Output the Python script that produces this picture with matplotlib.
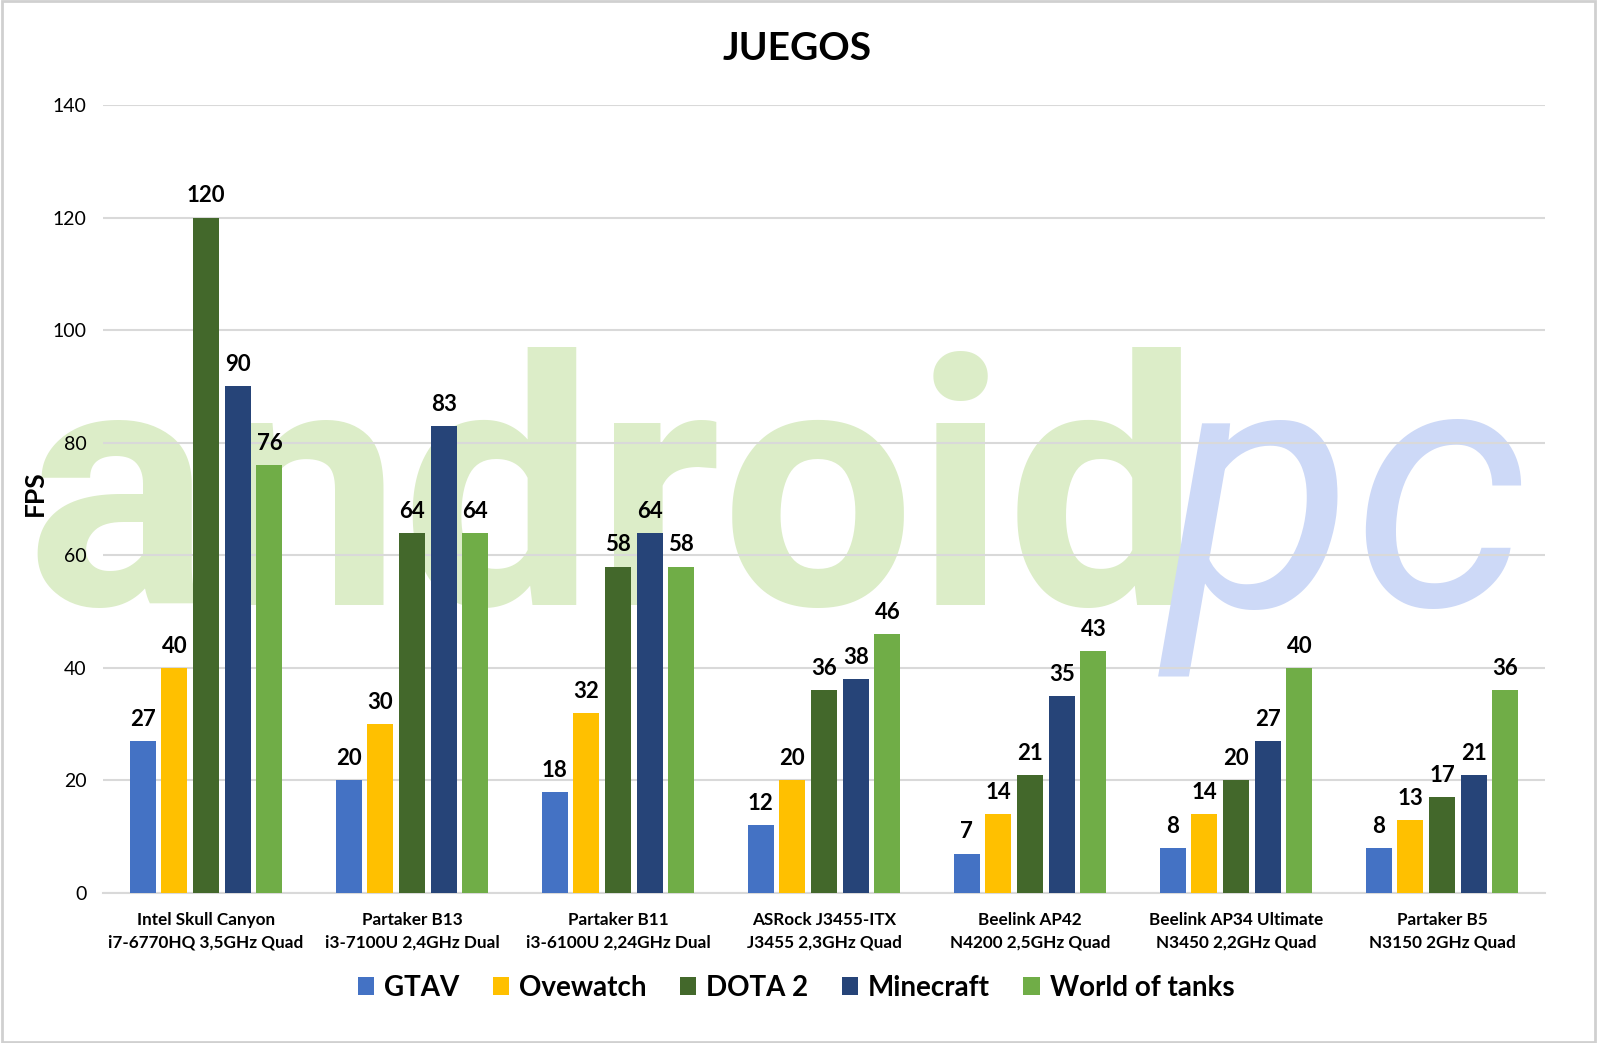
import numpy as np
import matplotlib
matplotlib.use("Agg")
from matplotlib import pyplot as plt
from matplotlib.patches import Rectangle

plt.rcParams["font.family"] = ["Lato", "DejaVu Sans"]

# data
categories = [
    "Intel Skull Canyon\ni7-6770HQ 3,5GHz Quad",
    "Partaker B13\ni3-7100U 2,4GHz Dual",
    "Partaker B11\ni3-6100U 2,24GHz Dual",
    "ASRock J3455-ITX\nJ3455 2,3GHz Quad",
    "Beelink AP42\nN4200 2,5GHz Quad",
    "Beelink AP34 Ultimate\nN3450 2,2GHz Quad",
    "Partaker B5\nN3150 2GHz Quad",
]
series_names = ["GTAV", "Ovewatch", "DOTA 2", "Minecraft", "World of tanks"]
gtav = [27, 20, 18, 12, 7, 8, 8]
overwatch = [40, 30, 32, 20, 14, 14, 13]
dota2 = [120, 64, 58, 36, 21, 20, 17]
minecraft = [90, 83, 64, 38, 35, 27, 21]
wot = [76, 64, 58, 46, 43, 40, 36]
y_ticks = [0, 20, 40, 60, 80, 100, 120, 140]

colors = ["#4472C4", "#FFC000", "#43682B", "#264478", "#70AD47"]
grid_col = "#D9D9D9"

W, H, DPI = 1597, 1043, 100
fig = plt.figure(figsize=(W / DPI, H / DPI), dpi=DPI)
fig.patch.set_facecolor("white")

# light frame round the picture
fig.add_artist(Rectangle((0.001, 0.001), 0.998, 0.998, transform=fig.transFigure,
                         fill=False, edgecolor="#D0D0D0", linewidth=2))

# watermark behind the plot
wm1 = fig.text(25 / W, 1 - 605 / H, "android", color="#DCEDC8", fontsize=250,
               fontweight="bold", family=["Roboto", "DejaVu Sans"],
               ha="left", va="baseline", zorder=0)
wm2 = fig.text(1165 / W, 1 - 605 / H, "pc", color="#CDD9F7", fontsize=250,
               fontstyle="italic", family=["Roboto", "DejaVu Sans"],
               ha="left", va="baseline", zorder=0)
fig.canvas.draw()
r = fig.canvas.get_renderer()
for t, target in ((wm1, 1175), (wm2, 365)):
    bb = t.get_window_extent(r)
    t.set_fontsize(t.get_fontsize() * target / bb.width)

ax = fig.add_axes([103 / W, 1 - 893 / H, 1442 / W, 788 / H])
ax.set_facecolor("none")
ax.set_zorder(1)

x = np.arange(len(categories))
step = 0.154
width = 0.126
all_series = [gtav, overwatch, dota2, minecraft, wot]
for i, (name, vals, c) in enumerate(zip(series_names, all_series, colors)):
    bars = ax.bar(x + (i - 2) * step, vals, width, color=c, label=name, zorder=3)
    for b, v in zip(bars, vals):
        ax.annotate(f"{v}", (b.get_x() + b.get_width() / 2, v), xytext=(0, 8),
                    textcoords="offset points", ha="center", va="bottom",
                    fontsize=16, fontweight="bold", color="black")

ax.set_xlim(-0.5, len(categories) - 0.5)
ax.set_ylim(0, 140)
ax.set_yticks(y_ticks)
ax.tick_params(axis="y", length=0, pad=12, labelsize=14)
ax.set_xticks(x)
ax.set_xticklabels(categories, fontsize=12.3, fontweight="bold", linespacing=1.45)
ax.tick_params(axis="x", length=0, pad=14)
ax.grid(axis="y", color=grid_col, linewidth=1.5, zorder=0)
ax.set_axisbelow(True)
for s in ("top", "right", "left"):
    ax.spines[s].set_visible(False)
ax.spines["bottom"].set_color(grid_col)
ax.spines["bottom"].set_linewidth(1.5)

fig.text(35 / W, 1 - 493 / H, "FPS", rotation=90, fontsize=19, fontweight="bold",
         ha="center", va="center")
fig.text(797 / W, 1 - 49 / H, "JUEGOS", fontsize=28, fontweight="bold",
         ha="center", va="center")

fig.legend(loc="center", bbox_to_anchor=(796 / W, 1 - 988 / H), ncol=5, frameon=False,
           prop={"size": 20, "weight": "bold"}, handlelength=0.6, handleheight=0.6,
           handletextpad=0.35, columnspacing=1.2)

fig.savefig("out.png", dpi=DPI)
